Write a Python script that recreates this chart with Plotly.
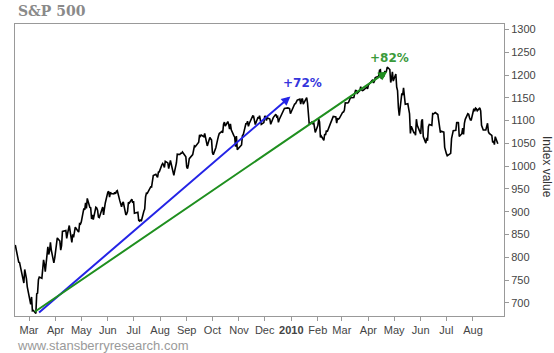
import plotly.graph_objects as go

# S&P 500 daily closes, Feb 2009 - Aug 2010
dates = [
"2009-02-13","2009-02-17","2009-02-18","2009-02-19","2009-02-20","2009-02-23","2009-02-24","2009-02-25","2009-02-26","2009-02-27",
"2009-03-02","2009-03-03","2009-03-04","2009-03-05","2009-03-06","2009-03-09","2009-03-10","2009-03-11","2009-03-12","2009-03-13",
"2009-03-16","2009-03-17","2009-03-18","2009-03-19","2009-03-20","2009-03-23","2009-03-24","2009-03-25","2009-03-26","2009-03-27",
"2009-03-30","2009-03-31",
"2009-04-01","2009-04-02","2009-04-03","2009-04-06","2009-04-07","2009-04-08","2009-04-09","2009-04-13","2009-04-14","2009-04-15",
"2009-04-16","2009-04-17","2009-04-20","2009-04-21","2009-04-22","2009-04-23","2009-04-24","2009-04-27","2009-04-28","2009-04-29","2009-04-30",
"2009-05-01","2009-05-04","2009-05-05","2009-05-06","2009-05-07","2009-05-08","2009-05-11","2009-05-12","2009-05-13","2009-05-14",
"2009-05-15","2009-05-18","2009-05-19","2009-05-20","2009-05-21","2009-05-22","2009-05-26","2009-05-27","2009-05-28","2009-05-29",
"2009-06-01","2009-06-02","2009-06-03","2009-06-04","2009-06-05","2009-06-08","2009-06-09","2009-06-10","2009-06-11","2009-06-12",
"2009-06-15","2009-06-16","2009-06-17","2009-06-18","2009-06-19","2009-06-22","2009-06-23","2009-06-24","2009-06-25","2009-06-26",
"2009-06-29","2009-06-30",
"2009-07-01","2009-07-02","2009-07-06","2009-07-07","2009-07-08","2009-07-09","2009-07-10","2009-07-13","2009-07-14","2009-07-15",
"2009-07-16","2009-07-17","2009-07-20","2009-07-21","2009-07-22","2009-07-23","2009-07-24","2009-07-27","2009-07-28","2009-07-29",
"2009-07-30","2009-07-31",
"2009-08-03","2009-08-04","2009-08-05","2009-08-06","2009-08-07","2009-08-10","2009-08-11","2009-08-12","2009-08-13","2009-08-14",
"2009-08-17","2009-08-18","2009-08-19","2009-08-20","2009-08-21","2009-08-24","2009-08-25","2009-08-26","2009-08-27","2009-08-28","2009-08-31",
"2009-09-01","2009-09-02","2009-09-03","2009-09-04","2009-09-08","2009-09-09","2009-09-10","2009-09-11","2009-09-14","2009-09-15",
"2009-09-16","2009-09-17","2009-09-18","2009-09-21","2009-09-22","2009-09-23","2009-09-24","2009-09-25","2009-09-28","2009-09-29","2009-09-30",
"2009-10-01","2009-10-02","2009-10-05","2009-10-06","2009-10-07","2009-10-08","2009-10-09","2009-10-12","2009-10-13","2009-10-14",
"2009-10-15","2009-10-16","2009-10-19","2009-10-20","2009-10-21","2009-10-22","2009-10-23","2009-10-26","2009-10-27","2009-10-28",
"2009-10-29","2009-10-30",
"2009-11-02","2009-11-03","2009-11-04","2009-11-05","2009-11-06","2009-11-09","2009-11-10","2009-11-11","2009-11-12","2009-11-13",
"2009-11-16","2009-11-17","2009-11-18","2009-11-19","2009-11-20","2009-11-23","2009-11-24","2009-11-25","2009-11-27","2009-11-30",
"2009-12-01","2009-12-02","2009-12-03","2009-12-04","2009-12-07","2009-12-08","2009-12-09","2009-12-10","2009-12-11","2009-12-14",
"2009-12-15","2009-12-16","2009-12-17","2009-12-18","2009-12-21","2009-12-22","2009-12-23","2009-12-24","2009-12-28","2009-12-29",
"2009-12-30","2009-12-31",
"2010-01-04","2010-01-05","2010-01-06","2010-01-07","2010-01-08","2010-01-11","2010-01-12","2010-01-13","2010-01-14","2010-01-15",
"2010-01-19","2010-01-20","2010-01-21","2010-01-22","2010-01-25","2010-01-26","2010-01-27","2010-01-28","2010-01-29",
"2010-02-01","2010-02-02","2010-02-03","2010-02-04","2010-02-05","2010-02-08","2010-02-09","2010-02-10","2010-02-11","2010-02-12",
"2010-02-16","2010-02-17","2010-02-18","2010-02-19","2010-02-22","2010-02-23","2010-02-24","2010-02-25","2010-02-26",
"2010-03-01","2010-03-02","2010-03-03","2010-03-04","2010-03-05","2010-03-08","2010-03-09","2010-03-10","2010-03-11","2010-03-12",
"2010-03-15","2010-03-16","2010-03-17","2010-03-18","2010-03-19","2010-03-22","2010-03-23","2010-03-24","2010-03-25","2010-03-26",
"2010-03-29","2010-03-30","2010-03-31",
"2010-04-01","2010-04-05","2010-04-06","2010-04-07","2010-04-08","2010-04-09","2010-04-12","2010-04-13","2010-04-14","2010-04-15",
"2010-04-16","2010-04-19","2010-04-20","2010-04-21","2010-04-22","2010-04-23","2010-04-26","2010-04-27","2010-04-28","2010-04-29","2010-04-30",
"2010-05-03","2010-05-04","2010-05-05","2010-05-06","2010-05-07","2010-05-10","2010-05-11","2010-05-12","2010-05-13","2010-05-14",
"2010-05-17","2010-05-18","2010-05-19","2010-05-20","2010-05-21","2010-05-24","2010-05-25","2010-05-26","2010-05-27","2010-05-28",
"2010-06-01","2010-06-02","2010-06-03","2010-06-04","2010-06-07","2010-06-08","2010-06-09","2010-06-10","2010-06-11","2010-06-14",
"2010-06-15","2010-06-16","2010-06-17","2010-06-18","2010-06-21","2010-06-22","2010-06-23","2010-06-24","2010-06-25","2010-06-28",
"2010-06-29","2010-06-30",
"2010-07-01","2010-07-02","2010-07-06","2010-07-07","2010-07-08","2010-07-09","2010-07-12","2010-07-13","2010-07-14","2010-07-15",
"2010-07-16","2010-07-19","2010-07-20","2010-07-21","2010-07-22","2010-07-23","2010-07-26","2010-07-27","2010-07-28","2010-07-29","2010-07-30",
"2010-08-02","2010-08-03","2010-08-04","2010-08-05","2010-08-06","2010-08-09","2010-08-10","2010-08-11","2010-08-12","2010-08-13",
"2010-08-16","2010-08-17","2010-08-18","2010-08-19","2010-08-20","2010-08-23","2010-08-24","2010-08-25","2010-08-26","2010-08-27","2010-08-30",
]

closes = [
826.84,789.17,788.42,778.94,770.05,743.33,773.14,764.90,752.83,735.09,
700.82,696.33,712.87,682.55,683.38,676.53,719.60,721.36,750.74,756.55,
753.89,778.12,794.35,784.04,768.54,822.92,806.12,813.88,832.86,815.94,
787.53,797.87,
811.08,834.38,842.50,835.48,815.55,825.16,856.56,858.73,841.50,852.06,
865.30,869.60,832.39,850.08,843.55,851.92,866.23,857.51,855.16,873.64,872.81,
877.52,907.24,903.80,919.53,907.39,929.23,909.24,908.35,883.92,893.07,
882.88,909.71,908.13,903.47,888.33,887.00,910.33,893.06,906.83,919.14,
942.87,944.74,931.76,942.46,940.09,939.14,942.43,939.15,944.89,946.21,
923.72,911.97,910.71,918.37,921.23,893.04,895.10,900.94,920.26,918.90,
927.23,919.32,
923.33,896.42,898.72,881.03,879.56,882.68,879.13,901.05,905.84,932.68,
940.74,940.38,951.13,954.58,954.07,976.29,979.26,982.18,979.62,975.15,
986.75,987.48,
1002.63,1005.65,1002.72,997.08,1010.48,1007.10,994.35,1005.81,1012.73,1004.09,
979.73,989.67,996.46,1007.37,1026.13,1025.57,1028.00,1028.12,1030.98,1028.93,1020.62,
998.04,994.75,1003.24,1016.40,1025.39,1033.37,1044.14,1042.73,1049.34,1052.63,
1068.76,1065.49,1068.30,1064.66,1071.66,1060.87,1050.78,1044.38,1062.98,1060.61,1057.08,
1029.85,1025.21,1040.46,1054.72,1057.58,1065.48,1071.49,1076.19,1073.19,1092.02,
1096.56,1087.68,1097.91,1091.06,1081.40,1092.91,1079.60,1066.95,1063.41,1042.63,
1066.11,1036.19,
1042.88,1045.41,1046.50,1066.63,1069.30,1093.08,1093.01,1098.51,1087.24,1093.48,
1109.30,1110.32,1109.80,1094.90,1091.38,1106.24,1105.65,1110.63,1091.49,1095.63,
1108.86,1109.24,1099.92,1105.98,1103.25,1091.94,1095.95,1102.35,1106.41,1114.11,
1107.93,1109.18,1096.08,1102.47,1114.05,1118.02,1120.59,1126.48,1127.78,1126.20,
1126.42,1115.10,
1132.99,1136.52,1137.14,1141.69,1144.98,1146.98,1136.22,1145.68,1148.46,1136.03,
1150.23,1138.04,1116.48,1091.76,1096.78,1092.17,1097.50,1084.53,1073.87,
1089.19,1103.32,1097.28,1063.11,1066.19,1056.74,1070.52,1068.13,1078.47,1075.51,
1094.87,1099.51,1106.75,1109.17,1108.01,1094.60,1105.24,1102.94,1104.49,
1115.71,1118.31,1118.79,1122.97,1138.70,1138.50,1140.45,1145.61,1150.24,1149.99,
1150.51,1159.46,1166.21,1165.83,1159.90,1165.81,1174.17,1167.72,1165.73,1166.59,
1173.22,1173.27,1169.43,
1178.10,1187.44,1189.44,1182.45,1186.44,1194.37,1196.48,1197.30,1210.65,1211.67,
1192.13,1197.52,1207.17,1205.94,1208.67,1217.28,1212.05,1183.71,1191.36,1206.78,1186.69,
1202.26,1173.60,1165.87,1128.15,1110.88,1159.73,1155.79,1171.67,1157.44,1135.68,
1136.94,1120.80,1115.05,1071.59,1087.69,1073.65,1074.03,1067.95,1103.06,1089.41,
1070.71,1098.38,1102.83,1064.88,1050.47,1062.00,1055.69,1086.84,1091.60,1089.63,
1115.23,1114.61,1116.04,1117.51,1113.20,1095.31,1092.04,1073.69,1076.76,1074.57,
1041.24,1030.71,
1027.37,1022.58,1028.06,1060.27,1070.25,1077.96,1078.75,1095.34,1095.17,1096.48,
1064.88,1071.25,1083.48,1069.59,1093.67,1102.66,1115.01,1113.84,1106.13,1101.53,1101.60,
1125.86,1120.46,1127.24,1125.81,1121.64,1127.79,1121.06,1089.47,1083.61,1079.25,
1079.38,1092.54,1094.16,1075.63,1071.69,1067.36,1051.87,1055.33,1047.22,1064.59,1048.92,
]

# Gain arrows (tail -> head) and their labels
arrow_labels = ["+72%", "+82%"]
arrow_tail_dates = ["2009-03-11", "2009-03-06"]
arrow_tail_values = [676, 678]
arrow_head_dates = ["2009-12-31", "2010-04-23"]
arrow_head_values = [1153, 1208]
label_dates = ["2010-01-14", "2010-04-26"]
label_values = [1182, 1238]
arrow_colors = ["#2424e6", "#1f8f1f"]
label_colors = ["#3535dc", "#3a9a3a"]

tick_dates = ["2009-03-01","2009-04-01","2009-05-01","2009-06-01","2009-07-01","2009-08-01",
              "2009-09-01","2009-10-01","2009-11-01","2009-12-01","2010-01-01","2010-02-01",
              "2010-03-01","2010-04-01","2010-05-01","2010-06-01","2010-07-01","2010-08-01"]
tick_text = ["Mar","Apr","May","Jun","Jul","Aug","Sep","Oct","Nov","Dec","<b>2010</b>","Feb",
             "Mar","Apr","May","Jun","Jul","Aug"]
y_ticks = list(range(700, 1301, 50))

fig = go.Figure()
fig.add_trace(go.Scatter(x=dates, y=closes, mode="lines",
                         line=dict(color="#000000", width=1.6), hoverinfo="skip",
                         showlegend=False))

annotations = []
for i in range(len(arrow_labels)):
    annotations.append(dict(
        x=arrow_head_dates[i], y=arrow_head_values[i],
        ax=arrow_tail_dates[i], ay=arrow_tail_values[i],
        xref="x", yref="y", axref="x", ayref="y",
        showarrow=True, arrowhead=2, arrowsize=0.9, arrowwidth=2,
        arrowcolor=arrow_colors[i], text=""))
    annotations.append(dict(
        x=label_dates[i], y=label_values[i], xref="x", yref="y",
        text="<b>" + arrow_labels[i] + "</b>", showarrow=False,
        font=dict(family="DejaVu Sans", size=12, color=label_colors[i]),
        xanchor="center", yanchor="middle"))

annotations.append(dict(x=0, y=1, xref="paper", yref="paper", xanchor="left",
                        yanchor="middle", xshift=1, yshift=13, showarrow=False,
                        text="<b>S&amp;P 500</b>",
                        font=dict(family="DejaVu Serif", size=14, color="#8a8a8a")))
annotations.append(dict(x=0, y=0, xref="paper", yref="paper", xanchor="left",
                        yanchor="middle", xshift=0, yshift=-29, showarrow=False,
                        text="www.stansberryresearch.com",
                        font=dict(family="Liberation Sans, Arial", size=13, color="#9a9a9a")))
annotations.append(dict(x=1, y=0.5, xref="paper", yref="paper", xanchor="center",
                        yanchor="middle", xshift=43, yshift=3, showarrow=False,
                        text="Index value", textangle=90,
                        font=dict(family="Liberation Sans, Arial", size=12, color="#333333")))

fig.update_layout(
    width=554, height=353,
    margin=dict(l=15, r=50, t=24, b=37),
    paper_bgcolor="white", plot_bgcolor="white",
    annotations=annotations,
    font=dict(family="Liberation Sans, Arial", size=11, color="#444444"),
)
fig.update_xaxes(range=["2009-02-12 16:00", "2010-09-06 05:00"],
                 tickmode="array", tickvals=tick_dates, ticktext=tick_text,
                 ticks="outside", ticklen=4, tickcolor="#999999",
                 showline=True, linecolor="#999999", linewidth=1, mirror=True,
                 showgrid=False, zeroline=False,
                 tickfont=dict(family="Liberation Sans, Arial", size=11, color="#444444"))
fig.update_yaxes(range=[671, 1312], side="right", tickmode="array", tickvals=y_ticks,
                 ticks="outside", ticklen=4, tickcolor="#999999",
                 showline=True, linecolor="#999999", linewidth=1, mirror=True,
                 showgrid=False, zeroline=False,
                 tickfont=dict(family="Liberation Sans, Arial", size=11, color="#444444"))

fig.write_html("out.html")
